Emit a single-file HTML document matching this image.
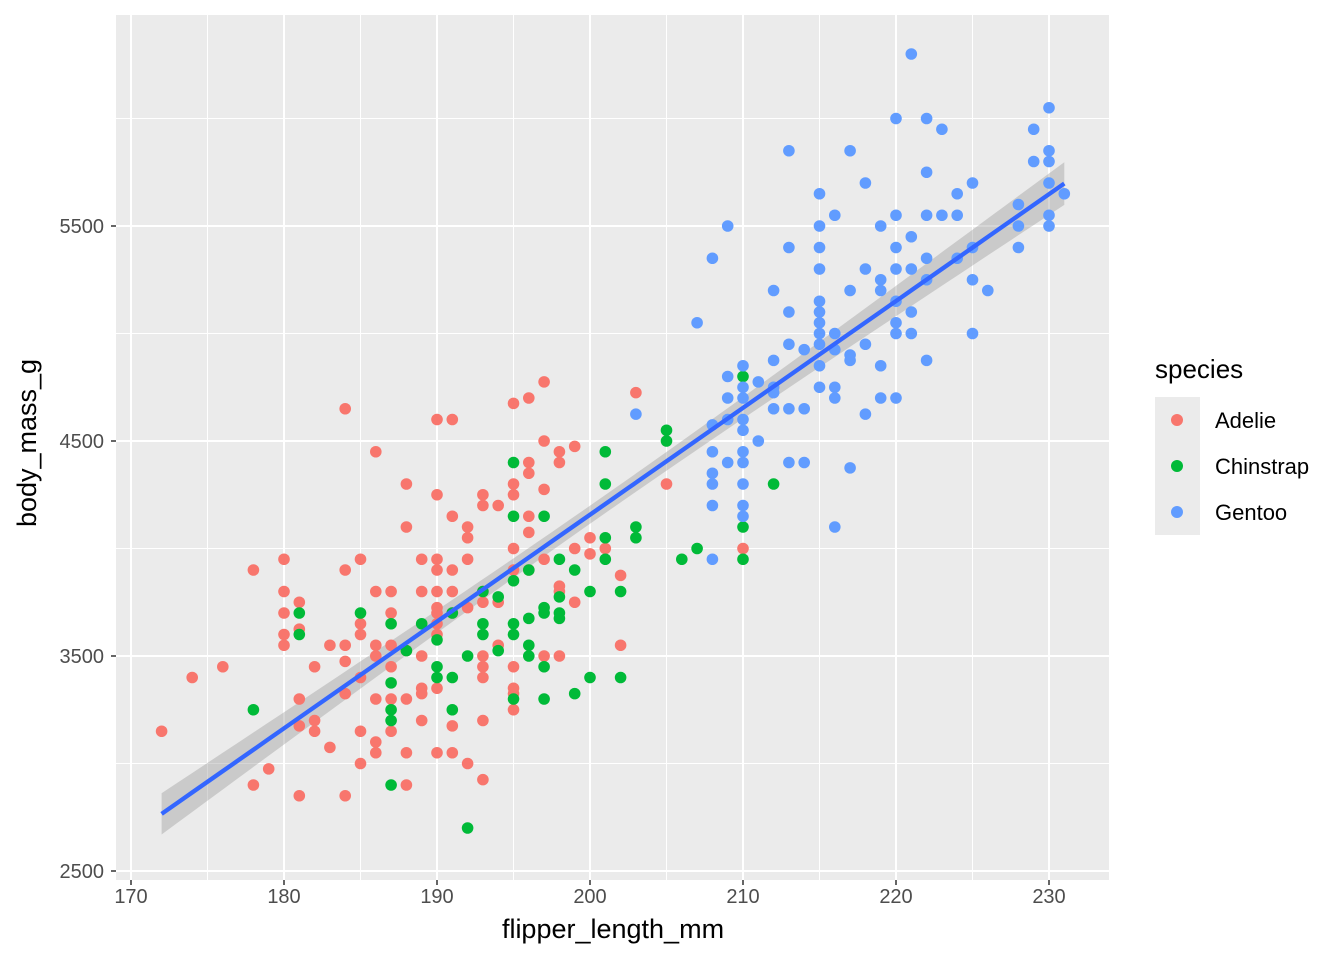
<!DOCTYPE html>
<html><head><meta charset="utf-8"><style>body{margin:0;background:#fff}svg{display:block;font-family:"Liberation Sans",sans-serif}</style></head>
<body>
<svg id="chart" width="1344" height="960" xmlns="http://www.w3.org/2000/svg">
<rect x="116" y="15" width="993" height="865" fill="#EBEBEB"/>
<g id="grid"></g><g id="band"></g><g id="pts"></g><g id="axes"></g>
<text x="613" y="938" font-size="27" text-anchor="middle" fill="#000">flipper_length_mm</text>
<text transform="translate(36,443) rotate(-90)" font-size="27" text-anchor="middle" fill="#000">body_mass_g</text>
<g>
<text x="1155" y="378" font-size="26">species</text>
<rect x="1155" y="397" width="45" height="138" fill="#EBEBEB"/>
<circle cx="1177" cy="420" r="6" fill="#F8766D"/>
<circle cx="1177" cy="466" r="6" fill="#00BA38"/>
<circle cx="1177" cy="512" r="6" fill="#619CFF"/>
<text x="1215" y="428" font-size="22">Adelie</text>
<text x="1215" y="474" font-size="22">Chinstrap</text>
<text x="1215" y="520" font-size="22">Gentoo</text>
</g>
</svg>
<script>
const NS="http://www.w3.org/2000/svg";
const xTicks=[170,180,190,200,210,220,230];
const yTicks=[2500,3500,4500,5500];
const fitSlope=49.69, fitIntercept=-5780.8, fitSigma=394, fitN=342, fitMeanX=200.9, fitSxx=67400;
const adelie=[[172,3150],[174,3400],[176,3450],[178,3900],[178,2900],[179,2975],[180,3950],[180,3800],[180,3700],[180,3600],[180,3550],[181,3750],[181,3625],[181,3300],[181,3175],[181,2850],[182,3450],[182,3200],[182,3150],[183,3550],[183,3075],[184,4650],[184,3900],[184,3550],[184,3475],[184,3325],[184,2850],[185,3950],[185,3650],[185,3600],[185,3400],[185,3150],[185,3000],[186,4450],[186,3800],[186,3550],[186,3500],[186,3300],[186,3100],[186,3050],[187,3800],[187,3700],[187,3550],[187,3450],[187,3300],[187,3150],[188,4300],[188,4100],[188,3525],[188,3300],[188,3050],[188,2900],[189,3950],[189,3800],[189,3500],[189,3350],[189,3325],[189,3200],[190,4600],[190,4250],[190,3950],[190,3900],[190,3800],[190,3725],[190,3700],[190,3650],[190,3600],[190,3350],[190,3050],[191,4600],[191,4150],[191,3900],[191,3800],[191,3175],[191,3050],[191,3700],[192,4100],[192,4050],[192,3950],[192,3725],[192,3000],[193,4250],[193,4200],[193,3800],[193,3750],[193,3500],[193,3450],[193,3400],[193,3200],[193,2925],[194,4200],[194,3750],[194,3550],[195,4675],[195,4300],[195,4250],[195,4000],[195,3900],[195,3450],[195,3350],[195,3250],[195,3325],[196,4700],[196,4400],[196,4350],[196,4150],[196,4075],[196,3900],[197,4775],[197,4500],[197,4275],[197,3950],[197,3500],[198,4450],[198,4400],[198,3825],[198,3800],[198,3500],[199,4475],[199,4000],[199,3750],[200,4050],[200,3975],[201,4000],[202,3875],[202,3550],[203,4725],[205,4300],[210,4000]];
const chinstrap=[[178,3250],[181,3700],[181,3600],[185,3700],[187,3650],[187,3375],[187,3250],[187,3200],[187,2900],[188,3525],[189,3650],[190,3575],[190,3450],[190,3400],[191,3700],[191,3400],[191,3250],[192,2700],[192,3500],[193,3800],[193,3650],[193,3600],[194,3775],[194,3525],[195,4400],[195,4150],[195,3850],[195,3650],[195,3600],[195,3300],[196,3900],[196,3675],[196,3550],[196,3500],[197,4150],[197,3725],[197,3700],[197,3450],[197,3300],[198,3950],[198,3775],[198,3700],[198,3675],[199,3900],[199,3325],[200,3800],[200,3400],[201,4450],[201,4300],[201,4050],[201,3950],[202,3800],[202,3400],[203,4100],[203,4050],[205,4550],[205,4500],[206,3950],[207,4000],[210,4800],[210,4100],[210,3950],[212,4300]];
const gentoo=[[203,4625],[207,5050],[208,5350],[208,4575],[208,4450],[208,4350],[208,4300],[208,4200],[208,3950],[209,5500],[209,4800],[209,4700],[209,4600],[209,4400],[210,4850],[210,4750],[210,4700],[210,4600],[210,4550],[210,4450],[210,4400],[210,4300],[210,4200],[210,4150],[211,4500],[211,4775],[212,5200],[212,4750],[212,4725],[212,4650],[212,4875],[213,5850],[213,5400],[213,5100],[213,4950],[213,4650],[213,4400],[214,4925],[214,4650],[214,4400],[215,5650],[215,5500],[215,5400],[215,5300],[215,5150],[215,5100],[215,5050],[215,5000],[215,4950],[215,4850],[215,4750],[216,5550],[216,5000],[216,4925],[216,4750],[216,4700],[216,4100],[217,5850],[217,5200],[217,4900],[217,4875],[217,4375],[218,5700],[218,5300],[218,4950],[218,4625],[219,5500],[219,5250],[219,5200],[219,4850],[219,4700],[220,6000],[220,5550],[220,5400],[220,5300],[220,5150],[220,5050],[220,5000],[220,4700],[221,6300],[221,5450],[221,5300],[221,5100],[221,5000],[222,6000],[222,5750],[222,5550],[222,5350],[222,5250],[222,4875],[223,5950],[223,5550],[224,5650],[224,5550],[224,5350],[225,5700],[225,5400],[225,5250],[225,5000],[226,5200],[228,5600],[228,5500],[228,5400],[229,5950],[229,5800],[230,6050],[230,5850],[230,5800],[230,5700],[230,5550],[230,5500],[231,5650]];
const X=v=>131+(v-170)*15.3, Y=v=>871-(v-2500)*0.215;
function mk(tag,attrs,parent){const e=document.createElementNS(NS,tag);for(const k in attrs)e.setAttribute(k,attrs[k]);document.getElementById(parent).appendChild(e);return e;}
// grid
for(let v=175;v<=233;v+=10){const l=mk('line',{x1:X(v),x2:X(v),y1:15,y2:880,stroke:'#fff','stroke-width':1},'grid');

}
for(let v=3000;v<=6500;v+=1000){const l=mk('line',{x1:116,x2:1109,y1:Y(v),y2:Y(v),stroke:'#fff','stroke-width':1},'grid');

}
xTicks.forEach(v=>{const l=mk('line',{x1:X(v),x2:X(v),y1:15,y2:880,stroke:'#fff','stroke-width':2},'grid');


const t=mk('line',{x1:X(v),x2:X(v),y1:880,y2:885,stroke:'#333','stroke-width':1.5},'axes');


const tx=mk('text',{x:X(v),y:903,'font-size':20,'text-anchor':'middle',fill:'#4D4D4D'},'axes');tx.textContent=v;

});
yTicks.forEach(v=>{const l=mk('line',{x1:116,x2:1109,y1:Y(v),y2:Y(v),stroke:'#fff','stroke-width':2},'grid');


const t=mk('line',{x1:111,x2:116,y1:Y(v),y2:Y(v),stroke:'#333','stroke-width':1.5},'axes');


const tx=mk('text',{x:104,y:Y(v)+7,'font-size':20,'text-anchor':'end',fill:'#4D4D4D'},'axes');tx.textContent=v;

});
// points
[[adelie,'#F8766D','adelie'],[chinstrap,'#00BA38','chinstrap'],[gentoo,'#619CFF','gentoo']].forEach(([d,c,n])=>d.forEach(p=>{const e=mk('circle',{cx:X(p[0]),cy:Y(p[1]),r:5.8,fill:c},'pts');

}));
// fit
const all=adelie.concat(chinstrap,gentoo);
const xs=all.map(p=>p[0]);const x0=Math.min(...xs),x1=Math.max(...xs);
const up=[],lo=[],ln=[];
for(let i=0;i<=60;i++){const x=x0+(x1-x0)*i/60;const f=fitIntercept+fitSlope*x;const se=1.967*fitSigma*Math.sqrt(1/fitN+(x-fitMeanX)**2/fitSxx);
up.push(X(x)+','+Y(f+se));lo.unshift(X(x)+','+Y(f-se));ln.push(X(x)+','+Y(f));}
const b=mk('polygon',{points:up.concat(lo).join(' '),fill:'#999999','fill-opacity':0.4},'band');


const rl=mk('polyline',{points:ln.join(' '),fill:'none',stroke:'#3366FF','stroke-width':4.3},'pts');


</script>
</body></html>
